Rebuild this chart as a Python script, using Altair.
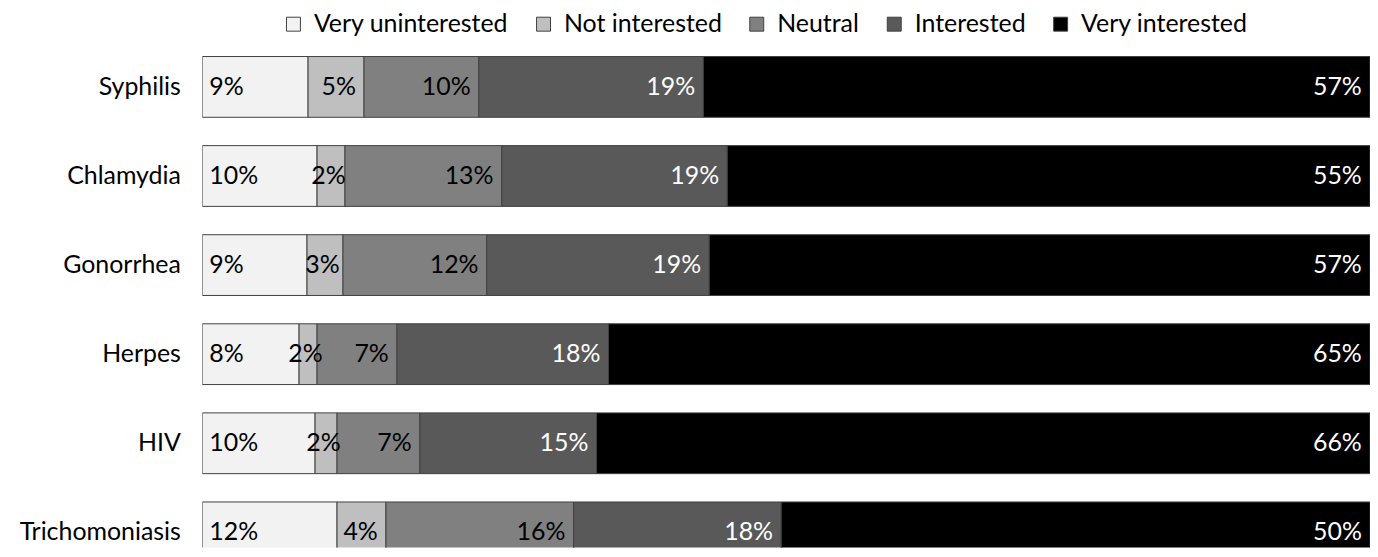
import altair as alt
import pandas as pd

categories = ["Syphilis", "Chlamydia", "Gonorrhea", "Herpes", "HIV", "Trichomoniasis"]
levels = ["Very uninterested", "Not interested", "Neutral", "Interested", "Very interested"]
colors = ["#f2f2f2", "#bfbfbf", "#808080", "#595959", "#000000"]

very_uninterested = [9.06, 9.83, 8.97, 8.29, 9.66, 11.54]
not_interested = [4.79, 2.39, 3.08, 1.54, 1.88, 4.19]
neutral = [9.83, 13.42, 12.31, 6.84, 7.09, 16.07]
interested = [19.23, 19.32, 19.06, 18.12, 15.13, 17.78]
very_interested = [57.09, 55.04, 56.58, 65.21, 66.24, 50.43]

series = [very_uninterested, not_interested, neutral, interested, very_interested]

rows = []
for i, c in enumerate(categories):
    for j, lev in enumerate(levels):
        v = series[j][i]
        rows.append({"category": c, "level": lev, "order": j, "value": v,
                     "label": f"{round(v)}%"})
df = pd.DataFrame(rows)

FONT = "Lato"
FS = 25

yscale = alt.Scale(domain=categories, range=[0, 536.5], paddingInner=0.318, paddingOuter=0.159)
xscale = alt.Scale(domain=[0, 100], nice=False, zero=True)

base = alt.Chart(df).transform_stack(
    stack="value", as_=["start", "end"], groupby=["category"],
    sort=[alt.SortField("order", order="ascending")]
)

bars = base.mark_bar(stroke="#404040", strokeWidth=1, clip=True).encode(
    y=alt.Y("category:N", sort=categories, scale=yscale,
            axis=alt.Axis(title=None, domain=False, ticks=False, labelPadding=22,
                          labelFont=FONT, labelFontSize=FS, labelColor="black",
                          labelLimit=0)),
    x=alt.X("start:Q", scale=xscale, axis=None),
    x2="end:Q",
    color=alt.Color("level:N", scale=alt.Scale(domain=levels, range=colors),
                    legend=alt.Legend(orient="none", legendX=79, legendY=-31,
                                      direction="horizontal", title=None,
                                      symbolType="square", symbolSize=196,
                                      symbolStrokeColor="#404040", symbolStrokeWidth=1,
                                      symbolOpacity=1, labelLimit=0,
                                      labelFont=FONT, labelFontSize=FS, labelColor="black",
                                      labelOffset=8, columnPadding=22, padding=0)),
    order=alt.Order("order:Q"),
)

first_labels = base.transform_filter("datum.order == 0").transform_calculate(
    pos="datum.start + 0.6"
).mark_text(align="left", baseline="middle", font=FONT, fontSize=FS, color="black").encode(
    y=alt.Y("category:N", sort=categories, scale=yscale),
    x=alt.X("pos:Q", scale=xscale),
    text="label:N",
)

other_labels = base.transform_filter("datum.order > 0").transform_calculate(
    pos="max(datum.end - 0.7, (datum.start + datum.end) / 2 + (length(datum.label) > 2 ? 1.8 : 1.25))"
).mark_text(align="right", baseline="middle", font=FONT, fontSize=FS).encode(
    y=alt.Y("category:N", sort=categories, scale=yscale),
    x=alt.X("pos:Q", scale=xscale),
    text="label:N",
    color=alt.condition("datum.order >= 3", alt.value("white"), alt.value("black")),
)

chart = alt.layer(bars, first_labels, other_labels).properties(
    width=1172, height=507,
    padding={"left": 195, "top": 33.5, "right": 0, "bottom": 0},
    autosize=alt.AutoSizeParams(type="none"),
).configure_view(strokeWidth=0)

chart.save("out.html", embed_options={"renderer": "svg", "actions": False})
